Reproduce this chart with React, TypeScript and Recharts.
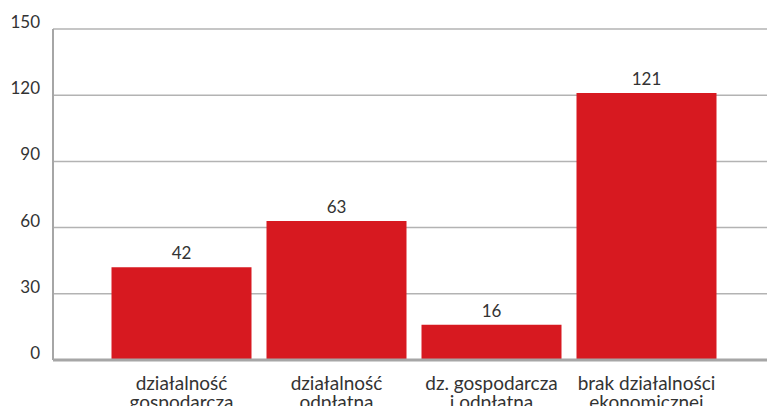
import React from 'react';
import { BarChart, Bar, XAxis, YAxis, CartesianGrid, LabelList } from 'recharts';

// Activity categories (two-line tick labels) and respondent counts
const categories = [
  'działalność\ngospodarcza',
  'działalność\nodpłatna',
  'dz. gospodarcza\ni odpłatna',
  'brak działalności\nekonomicznej',
];
const counts = [42, 63, 16, 121];
const yTicks = [0, 30, 60, 90, 120, 150];

const data = categories.map((name, i) => ({ name, value: counts[i] }));

const TEXT = '#333333';
const FONT = 'Lato, "Noto Sans", sans-serif';

const CategoryTick = ({ x, y, payload }: any) => {
  const lines = String(payload.value).split('\n');
  return (
    <text x={x} y={y} textAnchor="middle" fill={TEXT} fontSize={19} fontFamily={FONT}>
      {lines.map((line, i) => (
        <tspan key={i} x={x} dy={i === 0 ? 22 : 19}>
          {line}
        </tspan>
      ))}
    </text>
  );
};

export default function App() {
  return (
    <div style={{ position: 'absolute', left: 0, top: 0, background: '#fff' }}>
      <BarChart
        width={767}
        height={406}
        data={data}
        margin={{ top: 29, right: 0, bottom: 0, left: 0 }}
        barCategoryGap={7.5}
      >
        <CartesianGrid vertical={false} stroke="#b3b3b3" strokeWidth={1.5} />
        <XAxis
          dataKey="name"
          height={46}
          interval={0}
          padding={{ left: 51, right: 43 }}
          axisLine={{ stroke: '#a6a6a6', strokeWidth: 3 }}
          tickLine={false}
          tick={<CategoryTick />}
        />
        <YAxis
          width={53}
          domain={[0, 150]}
          ticks={yTicks}
          axisLine={{ stroke: '#a6a6a6', strokeWidth: 2 }}
          tickLine={false}
          tickSize={0}
          tickMargin={13}
          tick={{ fill: TEXT, fontSize: 17, fontFamily: FONT, dy: -7 }}
        />
        <Bar dataKey="value" fill="#D71920" isAnimationActive={false}>
          <LabelList
            dataKey="value"
            position="top"
            offset={8}
            fill={TEXT}
            fontSize={17}
            fontFamily={FONT}
          />
        </Bar>
      </BarChart>
    </div>
  );
}
